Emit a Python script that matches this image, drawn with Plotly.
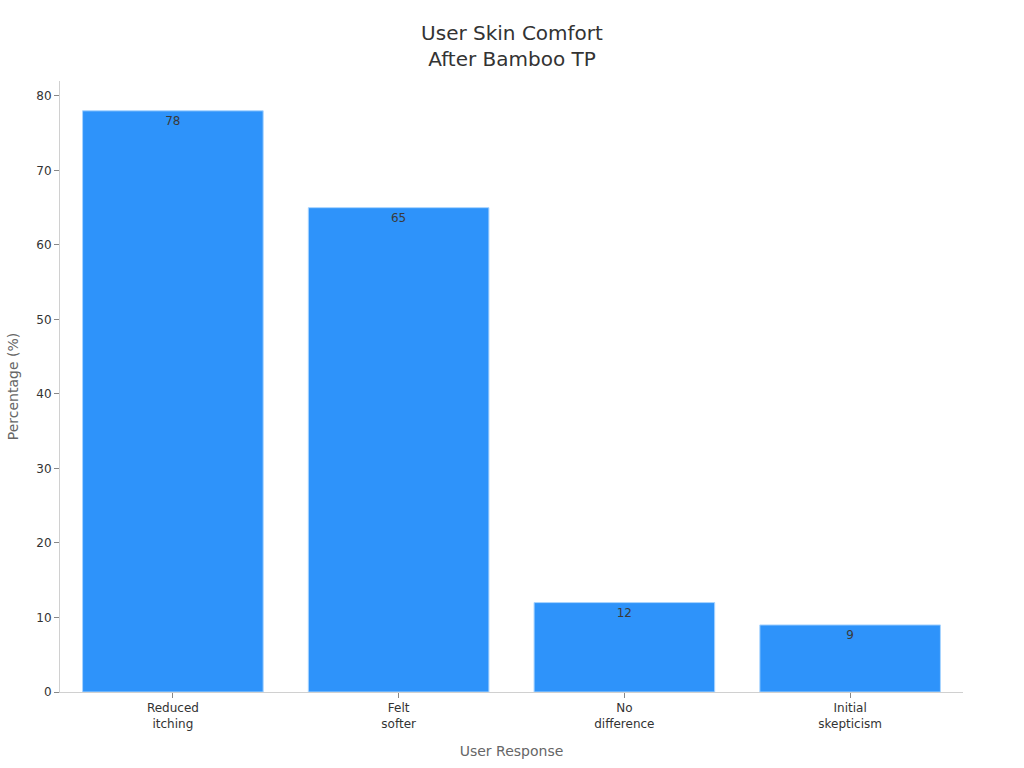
import plotly.graph_objects as go

categories = ["Reduced<br>itching", "Felt<br>softer", "No<br>difference", "Initial<br>skepticism"]
values = [78, 65, 12, 9]
y_ticks = [0, 10, 20, 30, 40, 50, 60, 70, 80]

fig = go.Figure(
    go.Bar(
        x=categories,
        y=values,
        text=[str(v) for v in values],
        textposition="inside",
        insidetextanchor="end",
        textfont=dict(color="#3a3a3a", size=12, family="DejaVu Sans"),
        marker=dict(color="#2E93FA", line=dict(color="#a8d4ff", width=1)),
        hoverinfo="skip",
    )
)

fig.update_layout(
    width=1024,
    height=768,
    margin=dict(l=60, r=61, t=81, b=76),
    paper_bgcolor="white",
    plot_bgcolor="white",
    font=dict(family="DejaVu Sans", size=12, color="#333333"),
    title=dict(
        text="User Skin Comfort<br>After Bamboo TP",
        x=0.5,
        xanchor="center",
        y=0.948,
        yanchor="middle",
        font=dict(size=20, color="#333333"),
    ),
    bargap=0.2,
    showlegend=False,
)

fig.update_xaxes(
    title=dict(text="User Response", font=dict(size=14, color="#666666"), standoff=16),
    showline=True,
    linecolor="#d0d0d0",
    linewidth=1,
    ticks="outside",
    ticklen=5,
    tickcolor="#888888",
    tickfont=dict(size=12, color="#333333"),
    showgrid=False,
)

fig.update_yaxes(
    title=dict(text="Percentage (%)", font=dict(size=14, color="#666666"), standoff=14),
    range=[0, 82],
    tickvals=y_ticks,
    showline=True,
    linecolor="#d0d0d0",
    linewidth=1,
    ticks="outside",
    ticklen=5,
    tickcolor="#888888",
    tickfont=dict(size=12, color="#333333"),
    showgrid=False,
    zeroline=False,
)

fig.write_html("out.html")
